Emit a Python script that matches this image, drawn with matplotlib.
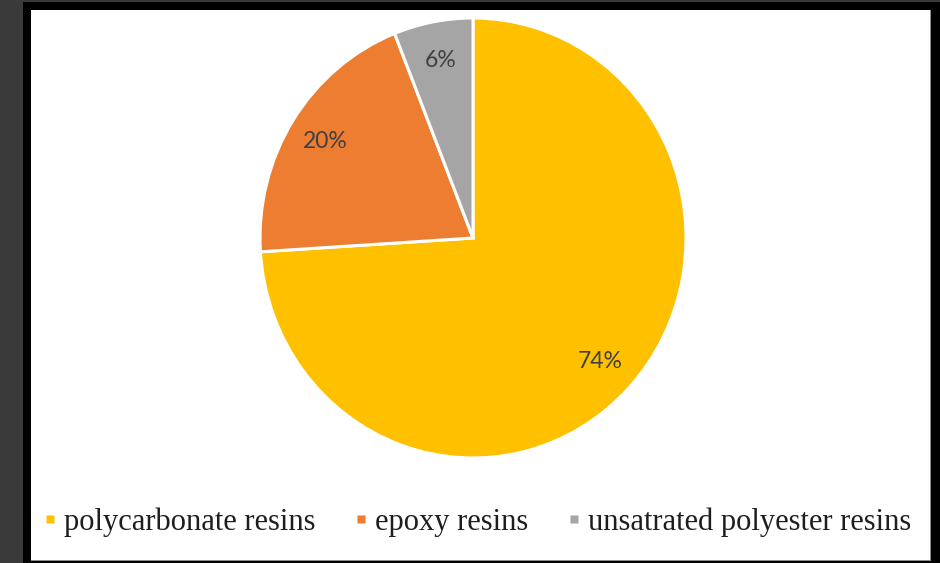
import matplotlib.pyplot as plt
from matplotlib.lines import Line2D
from matplotlib.patches import Rectangle

labels = ["polycarbonate resins", "epoxy resins", "unsatrated polyester resins"]
shares = [74, 20, 6]
colors = ["#FFC000", "#ED7D31", "#A5A5A5"]

W, H = 940, 563


def box(x0, y0, x1, y1):
    # pixel box (top-left origin) -> figure fraction rect
    return [x0 / W, 1 - y1 / H, (x1 - x0) / W, (y1 - y0) / H]


fig = plt.figure(figsize=(9.4, 5.63), dpi=100)
fig.patch.set_facecolor("#3a3a3a")

# black frame and white chart area
for (x0, y0, x1, y1), c in [((23, 2, 940, 563), "black"),
                            ((31, 10, 931, 561), "#8c8c8c"),
                            ((31, 10, 930, 560), "white")]:
    r = box(x0, y0, x1, y1)
    fig.patches.append(Rectangle((r[0], r[1]), r[2], r[3], transform=fig.transFigure,
                                 facecolor=c, edgecolor="none", zorder=-1))

ax = fig.add_axes(box(260, 18, 686, 458))
wedges, _, autotexts = ax.pie(shares, colors=colors, startangle=90, counterclock=False,
                              autopct="%d%%", pctdistance=0.82,
                              wedgeprops=dict(edgecolor="white", linewidth=2.2),
                              textprops=dict(fontsize=16.5, color="#404040", family="Lato"))
ax.set_aspect("auto")
ax.set_xlim(-1, 1)
ax.set_ylim(-1, 1)

handles = [Line2D([], [], marker="s", linestyle="none", markersize=6,
                  markerfacecolor=c, markeredgecolor="none") for c in colors]
fig.legend(handles, labels, ncol=3, loc="center", bbox_to_anchor=(478 / W, 1 - 522 / H),
           frameon=False, handlelength=0.35, handletextpad=0.3, columnspacing=1.3,
           prop=dict(family="Liberation Serif", size=22), labelcolor="#1e1e1e")

fig.savefig("out.png", dpi=100, facecolor=fig.get_facecolor())
